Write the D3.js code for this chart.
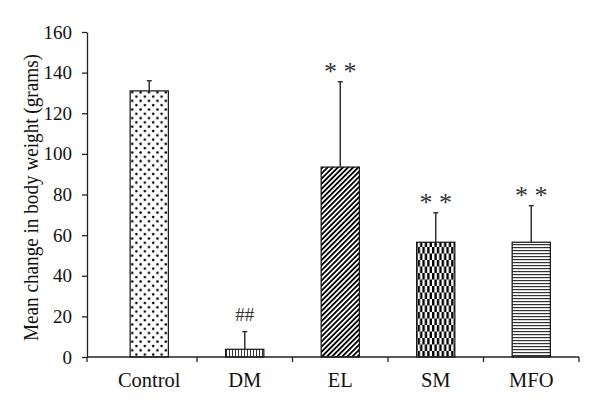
<!DOCTYPE html>
<html>
<head>
<meta charset="utf-8">
<script src="https://cdn.jsdelivr.net/npm/d3@7"></script>
<style>
  body { margin: 0; background: #fff; }
  svg { display: block; font-family: "Liberation Serif", "DejaVu Serif", serif; }
</style>
</head>
<body>
<div id="graf"></div>
<script>
// datos
grupos   = ['Control', 'DM', 'EL', 'SM', 'MFO']
medias   = [131, 3.8, 93.5, 56.5, 56.5]
errores  = [5, 8.7, 42, 14.5, 18]
marcas   = ['', '##', '* *', '* *', '* *']
patrones = ['puntos', 'verticales', 'diagonales', 'damero', 'horizontales']
ticks_y  = [0, 20, 40, 60, 80, 100, 120, 140, 160]

ANCHO = 600
ALTO  = 413
COLOR_EJE = '#222'

svg = d3.select('#graf').append('svg').attr('width', ANCHO).attr('height', ALTO)

// patrones de relleno
defs = svg.append('defs')

p = defs.append('pattern').attr('id', 'puntos').attr('patternUnits', 'userSpaceOnUse')
  .attr('width', 8.4).attr('height', 8.6)
p.append('rect').attr('width', 8.4).attr('height', 8.6).attr('fill', '#fff')
p.append('circle').attr('cx', 2).attr('cy', 2).attr('r', 1.3).attr('fill', '#000')
p.append('circle').attr('cx', 6.2).attr('cy', 6.3).attr('r', 1.3).attr('fill', '#000')

p = defs.append('pattern').attr('id', 'verticales').attr('patternUnits', 'userSpaceOnUse')
  .attr('width', 3).attr('height', 3)
p.append('rect').attr('width', 3).attr('height', 3).attr('fill', '#fff')
p.append('rect').attr('x', 1).attr('width', 1).attr('height', 3).attr('fill', '#333')

p = defs.append('pattern').attr('id', 'diagonales').attr('patternUnits', 'userSpaceOnUse')
  .attr('width', 3.6).attr('height', 4).attr('patternTransform', 'rotate(45)')
p.append('rect').attr('width', 3.6).attr('height', 4).attr('fill', '#fff')
p.append('rect').attr('x', 0).attr('width', 1.8).attr('height', 4).attr('fill', '#000')

p = defs.append('pattern').attr('id', 'damero').attr('patternUnits', 'userSpaceOnUse')
  .attr('width', 4.8).attr('height', 13)
p.append('rect').attr('width', 4.8).attr('height', 13).attr('fill', '#fff')
p.append('rect').attr('x', 0).attr('y', 0).attr('width', 2.4).attr('height', 6.5).attr('fill', '#000')
p.append('rect').attr('x', 2.4).attr('y', 6.5).attr('width', 2.4).attr('height', 6.5).attr('fill', '#000')

p = defs.append('pattern').attr('id', 'horizontales').attr('patternUnits', 'userSpaceOnUse')
  .attr('width', 3).attr('height', 3)
p.append('rect').attr('width', 3).attr('height', 3).attr('fill', '#fff')
p.append('rect').attr('y', 1).attr('width', 3).attr('height', 1.2).attr('fill', '#333')

// escalas
x0 = 87
fx = d3.scaleBand().domain(grupos).range([101.5, 579]).paddingInner(0.6).paddingOuter(0.3)
fy = d3.scaleLinear().domain([0, 160]).range([357, 32])

// eje y
eje_y = svg.append('g').attr('transform', `translate(${x0},0)`)
  .call(d3.axisLeft(fy).tickValues(ticks_y).tickSize(5).tickSizeOuter(0))
eje_y.select('.domain').attr('stroke', COLOR_EJE).attr('stroke-width', 1.3)
eje_y.selectAll('.tick line').attr('stroke', COLOR_EJE).attr('stroke-width', 1.3)
eje_y.selectAll('.tick text').attr('font-size', 19).attr('fill', '#111').attr('x', -15)
  .attr('font-family', '"Liberation Serif", serif')

// barras
svg.selectAll('rect.barra').data(grupos).enter()
  .append('rect').attr('class', 'barra')
  .attr('x', d => fx(d))
  .attr('y', (d, i) => fy(medias[i]))
  .attr('width', fx.bandwidth())
  .attr('height', (d, i) => fy(0) - fy(medias[i]))
  .attr('fill', (d, i) => `url(#${patrones[i]})`)
  .attr('stroke', '#111').attr('stroke-width', 1.2)

// barras de error (solo hacia arriba)
err = svg.selectAll('g.error').data(grupos).enter().append('g').attr('class', 'error')
err.append('line')
  .attr('x1', d => fx(d) + fx.bandwidth() / 2).attr('x2', d => fx(d) + fx.bandwidth() / 2)
  .attr('y1', (d, i) => fy(medias[i])).attr('y2', (d, i) => fy(medias[i] + errores[i]))
  .attr('stroke', '#333').attr('stroke-width', 1.5)
err.append('line')
  .attr('x1', d => fx(d) + fx.bandwidth() / 2 - 2.5).attr('x2', d => fx(d) + fx.bandwidth() / 2 + 2.5)
  .attr('y1', (d, i) => fy(medias[i] + errores[i])).attr('y2', (d, i) => fy(medias[i] + errores[i]))
  .attr('stroke', '#333').attr('stroke-width', 1.5)

// marcas de significancia
svg.selectAll('text.marca').data(grupos).enter()
  .append('text').attr('class', 'marca')
  .attr('x', d => fx(d) + fx.bandwidth() / 2)
  .attr('y', (d, i) => fy(medias[i] + errores[i]) - (marcas[i] == '##' ? 11 : 2))
  .attr('text-anchor', 'middle')
  .attr('font-size', (d, i) => marcas[i] == '##' ? 19 : 26)
  .attr('fill', '#333')
  .text((d, i) => marcas[i])

// eje x
eje_x = svg.append('g').attr('transform', `translate(0,${fy(0)})`)
eje_x.append('line').attr('x1', x0).attr('x2', 579).attr('stroke', COLOR_EJE).attr('stroke-width', 1.3)
fronteras = [x0].concat(grupos.map(d => fx(d) + fx.bandwidth() + (fx.step() - fx.bandwidth()) / 2))
eje_x.selectAll('line.tick').data(fronteras).enter()
  .append('line').attr('class', 'tick')
  .attr('x1', d => d).attr('x2', d => d).attr('y1', 0).attr('y2', 5)
  .attr('stroke', COLOR_EJE).attr('stroke-width', 1.3)
eje_x.selectAll('text').data(grupos).enter()
  .append('text')
  .attr('x', d => fx(d) + fx.bandwidth() / 2)
  .attr('y', 30)
  .attr('text-anchor', 'middle')
  .attr('font-size', 20.5).attr('fill', '#111')
  .text(d => d)

// titulo eje y
svg.append('text')
  .attr('transform', `translate(38,${(fy(0) + fy(160)) / 2 + 3}) rotate(-90)`)
  .attr('text-anchor', 'middle')
  .attr('font-size', 20).attr('fill', '#111')
  .attr('textLength', 287).attr('lengthAdjust', 'spacingAndGlyphs')
  .text('Mean change in body weight (grams)')
</script>
</body>
</html>
